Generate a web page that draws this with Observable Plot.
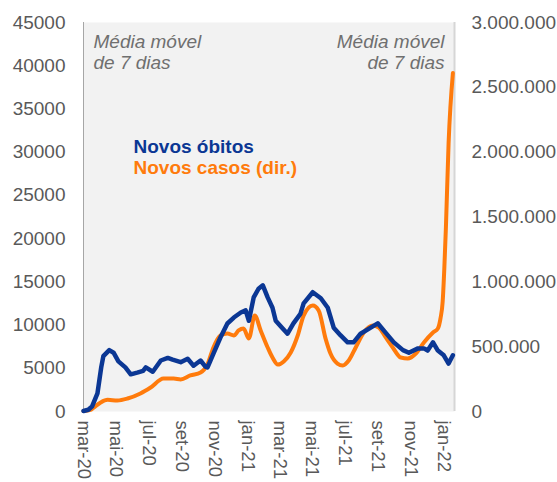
<!DOCTYPE html>
<html>
<head>
<meta charset="utf-8">
<script src="https://cdn.jsdelivr.net/npm/d3@7"></script>
<script src="https://cdn.jsdelivr.net/npm/@observablehq/plot@0.6"></script>
<style>
  html, body { margin: 0; padding: 0; background: #ffffff; }
  #chart svg { display: block; }
</style>
</head>
<body>
<div id="chart"></div>
<script>
// ---- Data (7-day moving averages) ----
const deathDates = ["2020-03-01","2020-03-10","2020-03-17","2020-03-27","2020-04-03","2020-04-07","2020-04-18","2020-04-26","2020-05-05","2020-05-18","2020-05-28","2020-06-09","2020-06-20","2020-06-25","2020-07-08","2020-07-23","2020-08-05","2020-08-14","2020-08-29","2020-09-11","2020-09-22","2020-10-05","2020-10-14","2020-10-18","2020-10-29","2020-11-11","2020-11-24","2020-12-06","2020-12-19","2020-12-28","2021-01-03","2021-01-12","2021-01-21","2021-01-29","2021-02-07","2021-02-16","2021-02-22","2021-03-07","2021-03-16","2021-03-27","2021-04-09","2021-04-15","2021-05-02","2021-05-17","2021-05-30","2021-06-10","2021-06-23","2021-07-06","2021-07-17","2021-07-30","2021-08-18","2021-08-31","2021-09-15","2021-09-30","2021-10-17","2021-10-28","2021-11-14","2021-11-25","2021-12-02","2021-12-12","2021-12-21","2022-01-01","2022-01-10","2022-01-18"];
const deathValues = [60,200,600,2100,5100,6400,7100,6800,5800,5100,4300,4500,4700,5100,4600,5900,6200,6000,5700,6100,5300,5900,5200,5100,6700,8560,10180,10870,11450,11700,10500,13200,14200,14600,13200,12000,10500,9600,9000,10200,11300,12500,13800,13100,12000,9700,8800,8000,8000,9000,9700,10200,9100,8000,7100,6800,7300,7300,7050,8000,7050,6500,5550,6500];

const caseDates = ["2020-03-01","2020-03-14","2020-03-20","2020-04-02","2020-04-15","2020-05-03","2020-05-22","2020-06-15","2020-07-04","2020-07-28","2020-08-16","2020-08-29","2020-09-16","2020-10-05","2020-10-18","2020-10-29","2020-11-11","2020-11-24","2020-12-06","2020-12-15","2020-12-24","2021-01-03","2021-01-14","2021-01-25","2021-02-07","2021-02-16","2021-02-26","2021-03-09","2021-03-22","2021-04-04","2021-04-15","2021-05-02","2021-05-13","2021-05-26","2021-06-04","2021-06-17","2021-06-27","2021-07-08","2021-07-21","2021-08-05","2021-08-22","2021-09-02","2021-09-15","2021-09-28","2021-10-13","2021-10-26","2021-11-10","2021-11-25","2021-12-12","2021-12-21","2021-12-26","2021-12-30","2022-01-02","2022-01-05","2022-01-10","2022-01-18"];
const caseValues = [3000,12000,30000,70000,90000,85000,100000,139000,185000,254000,254000,247000,278000,300000,365000,494000,586000,601000,586000,625000,640000,563000,740000,625000,494000,416000,362000,386000,455000,586000,740000,817000,779000,560000,447000,370000,355000,393000,494000,609000,663000,648000,571000,494000,416000,409000,447000,532000,609000,640000,720000,850000,1100000,1420000,2070000,2610000];

const leftTicks = [0,5000,10000,15000,20000,25000,30000,35000,40000,45000];
const rightTicks = [0,500000,1000000,1500000,2000000,2500000,3000000];
const xTickDates = ["2020-03-01","2020-05-01","2020-07-01","2020-09-01","2020-11-01","2021-01-01","2021-03-01","2021-05-01","2021-07-01","2021-09-01","2021-11-01","2022-01-01"];
const xTickLabels = ["mar-20","mai-20","jul-20","set-20","nov-20","jan-21","mar-21","mai-21","jul-21","set-21","nov-21","jan-22"];

const seriesNames = ["Novos óbitos","Novos casos (dir.)"];
const noteText = "Média móvel\nde 7 dias";

// ---- Build ----
const parse = d3.utcParse("%Y-%m-%d");
const k = 45000 / 3000000; // right-axis units -> left-axis units
const deaths = deathDates.map((d, i) => ({date: parse(d), value: deathValues[i]}));
const cases = caseDates.map((d, i) => ({date: parse(d), value: caseValues[i]}));
const xTicks = xTickDates.map((d, i) => ({date: parse(d), label: xTickLabels[i]}));
const xStart = parse("2020-03-01"), xEnd = parse("2022-01-21");

const ptFormat = d3.formatLocale({decimal: ",", thousands: ".", grouping: [3], currency: ["", ""]}).format(",");
const rightLabel = new Map(rightTicks.map(v => [v * k, ptFormat(v)]));

const BLUE = "#0b3794";
const ORANGE = "#ff7b0c";
const FONT = "Liberation Sans, Arial, sans-serif";

const chart = Plot.plot({
  width: 557,
  height: 482,
  marginLeft: 83,
  marginRight: 103,
  marginTop: 22,
  marginBottom: 71,
  style: {fontFamily: FONT, fontSize: "19px", color: "#595959", background: "#ffffff"},
  x: {type: "utc", domain: [xStart, xEnd], axis: null},
  y: {domain: [0, 45000], axis: null},
  marks: [
    Plot.frame({fill: "#f2f2f2", stroke: null}),
    Plot.ruleX([xEnd], {stroke: "#d6d6d6", strokeWidth: 2}),
    Plot.ruleX([xStart], {stroke: "#a6a6a6", strokeWidth: 1}),
    Plot.axisY({anchor: "left", ticks: leftTicks, tickSize: 0, tickPadding: 18, fontSize: 19, tickFormat: d => String(d), label: null}),
    Plot.axisY({anchor: "right", ticks: rightTicks.map(v => v * k), tickSize: 0, tickPadding: 17, fontSize: 19, tickFormat: d => rightLabel.get(d) ?? ptFormat(Math.round(d / k)), label: null}),
    Plot.text(xTicks, {x: "date", text: "label", frameAnchor: "bottom", rotate: 90, textAnchor: "start", lineAnchor: "middle", dy: 9, fontSize: 18.5, fill: "#595959"}),
    Plot.line(cases, {x: "date", y: d => d.value * k, stroke: ORANGE, strokeWidth: 4, curve: "monotone-x", strokeLinejoin: "round", strokeLinecap: "round"}),
    Plot.line(deaths, {x: "date", y: "value", stroke: BLUE, strokeWidth: 4.5, curve: "linear", strokeLinejoin: "round", strokeLinecap: "round"}),
    Plot.text([noteText], {frameAnchor: "top-left", dx: 10, dy: 10.5, lineAnchor: "top", textAnchor: "start", fontStyle: "italic", fontSize: 19, lineHeight: 1.1, fill: "#6f6f6f"}),
    Plot.text([noteText], {frameAnchor: "top-right", dx: -10, dy: 10.5, lineAnchor: "top", textAnchor: "end", fontStyle: "italic", fontSize: 19, lineHeight: 1.1, fill: "#6f6f6f"}),
    Plot.text([seriesNames[0]], {frameAnchor: "top-left", dx: 50, dy: 116.5, lineAnchor: "top", textAnchor: "start", fontWeight: "bold", fontSize: 19, fill: BLUE}),
    Plot.text([seriesNames[1]], {frameAnchor: "top-left", dx: 50, dy: 137.5, lineAnchor: "top", textAnchor: "start", fontWeight: "bold", fontSize: 19, fill: ORANGE})
  ]
});
document.getElementById("chart").appendChild(chart);
</script>
</body>
</html>
